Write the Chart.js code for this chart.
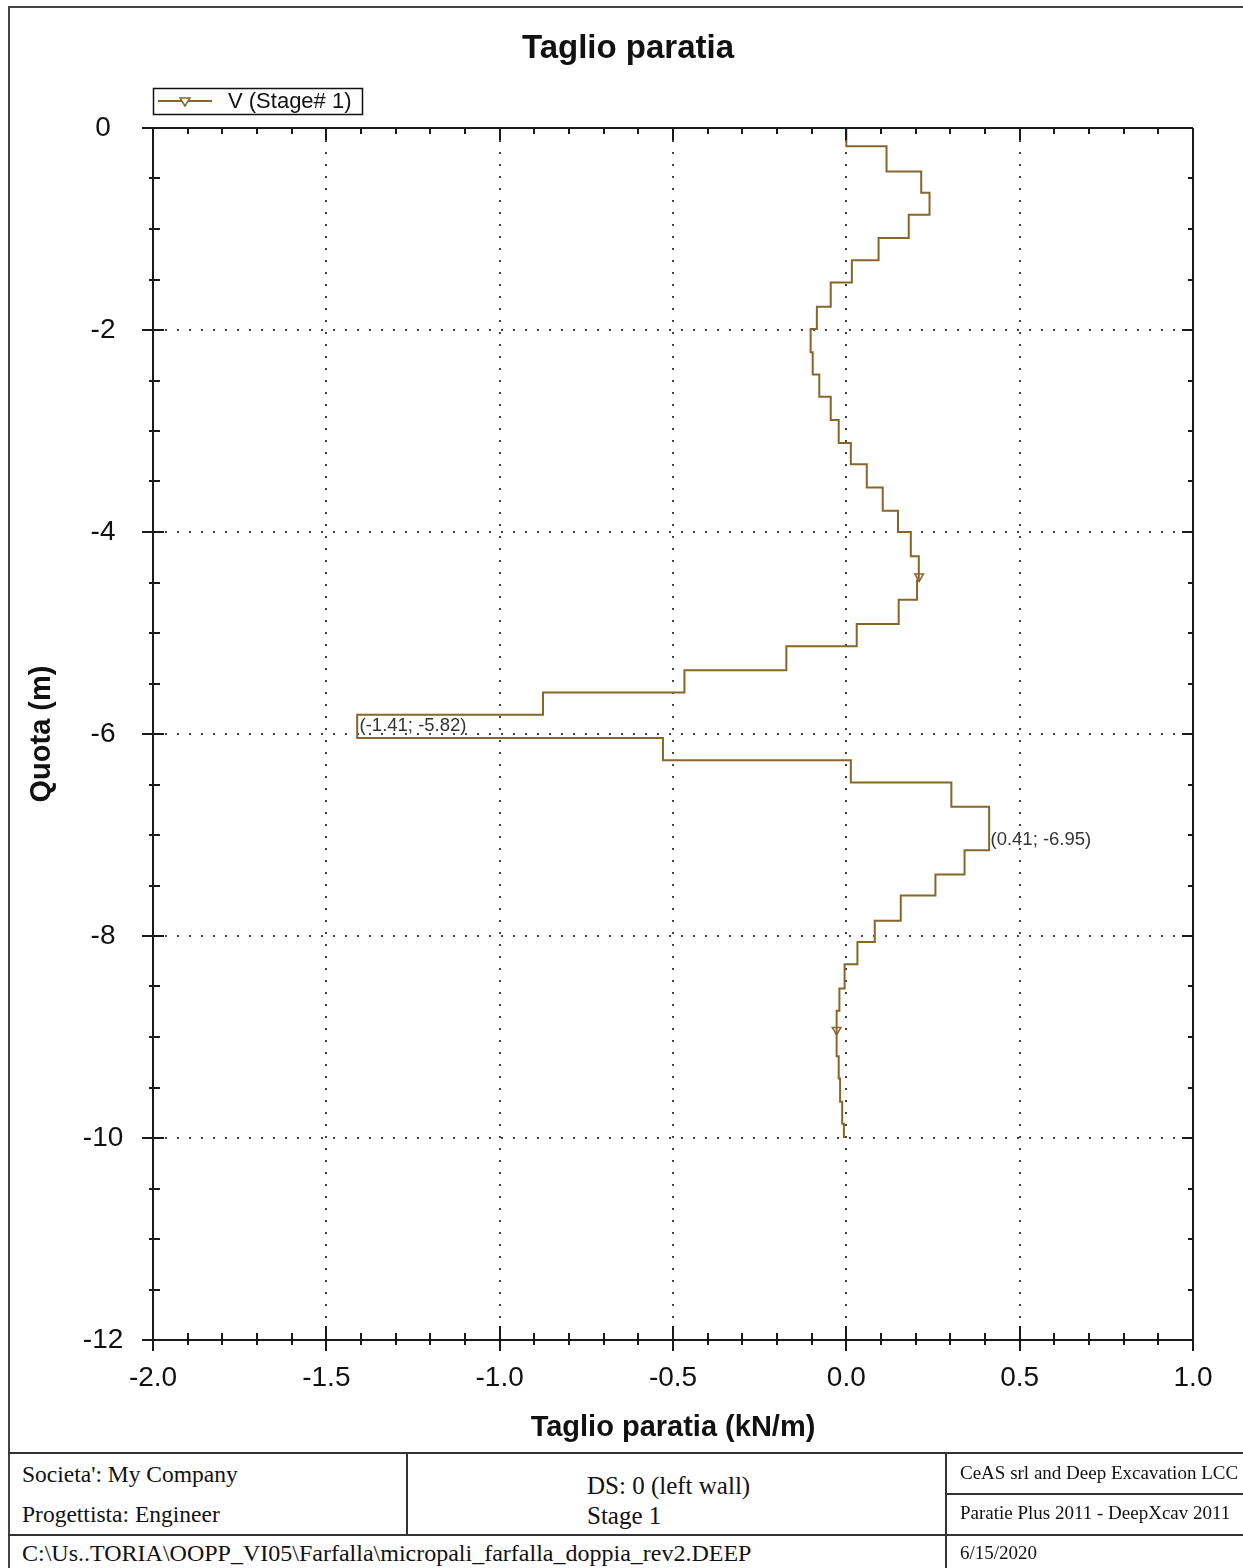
<!DOCTYPE html>
<html>
<head>
<meta charset="utf-8">
<title>Taglio paratia</title>
<script src="https://cdn.jsdelivr.net/npm/chart.js@4.4.1/dist/chart.umd.min.js"></script>
<style>
  html, body { margin: 0; padding: 0; background: #fff; }
  #page { position: relative; width: 1243px; height: 1568px; overflow: hidden; }
  #chart { position: absolute; left: 0; top: 0; }
  .ln { position: absolute; background: #333; }
  .ft { position: absolute; font-family: "Liberation Serif", "Times New Roman", serif; color: #111; white-space: nowrap; height: 30px; line-height: 30px; }
  .small { font-size: 19px; }
</style>
</head>
<body>
<div id="page">
  <canvas id="chart" width="1243" height="1453"></canvas>

  <!-- frame + cartiglio -->
  <div class="ln" style="left:8px;top:6px;width:2px;height:1562px;background:#444"></div>
  <div class="ln" style="left:8px;top:6px;width:1235px;height:2px;background:#444"></div>
  <div class="ln" style="left:8px;top:1452px;width:1235px;height:2px"></div>
  <div class="ln" style="left:406px;top:1453px;width:2px;height:82px"></div>
  <div class="ln" style="left:8px;top:1534px;width:1235px;height:2px"></div>
  <div class="ln" style="left:945px;top:1453px;width:2px;height:115px"></div>
  <div class="ln" style="left:946px;top:1493px;width:297px;height:2px"></div>

  <div class="ft" style="left:22px;top:1459px;font-size:23.5px">Societa': My Company</div>
  <div class="ft" style="left:22px;top:1499px;font-size:23.5px">Progettista: Engineer</div>
  <div class="ft" style="left:587px;top:1471px;font-size:25px">DS: 0 (left wall)</div>
  <div class="ft" style="left:587px;top:1501px;font-size:25px">Stage 1</div>
  <div class="ft small" style="left:960px;top:1458px">CeAS srl and Deep Excavation LCC</div>
  <div class="ft small" style="left:960px;top:1498px">Paratie Plus 2011 - DeepXcav 2011</div>
  <div class="ft" style="left:22px;top:1538px;font-size:24px">C:\Us..TORIA\OOPP_VI05\Farfalla\micropali_farfalla_doppia_rev2.DEEP</div>
  <div class="ft small" style="left:960px;top:1538px">6/15/2020</div>
</div>

<script>
// profondita' dei cambi di gradino (m sotto testa paratia)
const quotaBounds = [0, 0.18, 0.43, 0.64, 0.86, 1.09, 1.31, 1.53, 1.77, 1.99,
  2.22, 2.44, 2.66, 2.89, 3.12, 3.33, 3.56, 3.79, 4.00, 4.24,
  4.48, 4.67, 4.91, 5.13, 5.37, 5.59, 5.81, 6.04, 6.26, 6.48,
  6.72, 6.95, 7.15, 7.39, 7.60, 7.85, 8.06, 8.28, 8.52, 8.74,
  8.96, 9.19, 9.41, 9.64, 9.86, 10.0];
// taglio V (kN/m) su ogni gradino
const taglioV = [0.0, 0.116, 0.216, 0.24, 0.18, 0.093, 0.016, -0.045, -0.085, -0.103,
  -0.097, -0.078, -0.045, -0.022, 0.013, 0.059, 0.105, 0.149, 0.186, 0.209,
  0.204, 0.151, 0.03, -0.173, -0.467, -0.875, -1.411, -0.529, 0.013, 0.303,
  0.412, 0.412, 0.341, 0.257, 0.157, 0.082, 0.032, -0.005, -0.02, -0.028,
  -0.028, -0.022, -0.018, -0.012, -0.007];
const markerV = [0.21, -0.028];
const markerQ = [-4.44, -8.93];
const labelV = [-1.41, 0.41];
const labelQ = [-5.82, -6.95];
const xTicks = [-2.0, -1.5, -1.0, -0.5, 0.0, 0.5, 1.0];
const yTicks = [0, -2, -4, -6, -8, -10, -12];

const lineColor = '#86662c';
const font = '"Liberation Sans", Arial, sans-serif';

const stepPoints = [{ x: taglioV[0], y: -quotaBounds[0] }];
taglioV.forEach((v, i) => stepPoints.push({ x: v, y: -quotaBounds[i + 1] }));
const markerPoints = markerV.map((v, i) => ({ x: v, y: markerQ[i] }));

function triangleDown(ctx, cx, cy, r) {
    ctx.beginPath();
    ctx.moveTo(cx - r, cy - r * 0.6);
    ctx.lineTo(cx + r, cy - r * 0.6);
    ctx.lineTo(cx, cy + r);
    ctx.closePath();
    ctx.fillStyle = '#fff';
    ctx.fill();
    ctx.stroke();
}

const frameTicks = {
    id: 'frameTicks',
    afterDraw(chart) {
        const { ctx, chartArea: a, scales: { x, y } } = chart;
        ctx.save();
        ctx.strokeStyle = '#1a1a1a';
        ctx.lineWidth = 2;
        ctx.beginPath();
        ctx.moveTo(a.left - 11, a.top); ctx.lineTo(a.right, a.top);
        ctx.moveTo(a.left - 11, a.bottom); ctx.lineTo(a.right, a.bottom);
        ctx.moveTo(a.left, a.top); ctx.lineTo(a.left, a.bottom + 11);
        ctx.moveTo(a.right, a.top); ctx.lineTo(a.right, a.bottom);
        for (let i = 0; i <= 30; i++) {
            const px = Math.round(x.getPixelForValue(xTicks[0] + i * 0.1));
            const major = i % 5 === 0;
            ctx.moveTo(px, a.bottom - (major ? 14 : 7)); ctx.lineTo(px, a.bottom + (major ? 11 : 5));
            ctx.moveTo(px, a.top); ctx.lineTo(px, a.top + (major ? 12 : 6));
        }
        for (let i = 0; i <= 24; i++) {
            const py = Math.round(y.getPixelForValue(-i * 0.5));
            const major = i % 4 === 0;
            ctx.moveTo(a.left - (major ? 11 : 4), py); ctx.lineTo(a.left + (major ? 11 : 7), py);
            ctx.moveTo(a.right - (major ? 11 : 5), py); ctx.lineTo(a.right, py);
        }
        ctx.stroke();

        // etichette dei punti estremi
        ctx.fillStyle = '#333';
        ctx.font = '18.5px ' + font;
        ctx.textAlign = 'left';
        ctx.textBaseline = 'middle';
        labelV.forEach((v, i) => {
            const txt = '(' + v.toFixed(2) + '; ' + labelQ[i].toFixed(2) + ')';
            ctx.fillText(txt, x.getPixelForValue(v) + 2, y.getPixelForValue(labelQ[i]) + 10);
        });

        // legenda
        const lx = a.left, ly = a.top - 40;
        ctx.lineWidth = 1.5;
        ctx.strokeStyle = '#111';
        ctx.strokeRect(lx + 0.5, ly + 0.5, 209, 26);
        ctx.strokeStyle = lineColor;
        ctx.lineWidth = 2;
        ctx.beginPath();
        ctx.moveTo(lx + 5, ly + 13); ctx.lineTo(lx + 59, ly + 13);
        ctx.stroke();
        ctx.lineWidth = 1.5;
        triangleDown(ctx, lx + 32, ly + 13, 5);
        ctx.fillStyle = '#111';
        ctx.font = '22px ' + font;
        ctx.fillText(chart.data.datasets[0].label, lx + 75, ly + 14);
        ctx.restore();
    }
};

new Chart(document.getElementById('chart'), {
    type: 'line',
    data: {
        datasets: [{
            label: 'V (Stage# 1)',
            data: stepPoints,
            stepped: true,
            borderColor: lineColor,
            borderWidth: 2,
            pointRadius: 0,
            fill: false
        }, {
            label: 'marker',
            data: markerPoints,
            showLine: false,
            pointStyle: 'triangle',
            rotation: 180,
            pointRadius: 5,
            borderColor: lineColor,
            backgroundColor: '#fff',
            pointBorderWidth: 1.5
        }]
    },
    options: {
        responsive: false,
        animation: false,
        events: [],
        layout: { padding: { left: 13, top: 0, right: 0, bottom: 0 } },
        plugins: {
            legend: { display: false },
            tooltip: { enabled: false },
            title: {
                display: true,
                text: 'Taglio paratia',
                color: '#111',
                font: { family: font, size: 33, weight: 'bold' },
                padding: { top: 29, bottom: 59.4 }
            }
        },
        scales: {
            x: {
                type: 'linear',
                min: xTicks[0],
                max: xTicks[xTicks.length - 1],
                afterBuildTicks: s => { s.ticks = xTicks.map(v => ({ value: v })); },
                afterFit: s => { s.height = 113; },
                ticks: {
                    padding: 21, color: '#111', maxRotation: 0, autoSkip: false,
                    font: { family: font, size: 28 },
                    callback: v => Number(v).toFixed(1)
                },
                grid: { drawTicks: false, color: '#444', lineWidth: 2 },
                border: { display: false, dash: [2, 10] },
                title: {
                    display: true, text: 'Taglio paratia (kN/m)', color: '#111',
                    font: { family: font, size: 29, weight: 'bold' },
                    padding: { top: 0, bottom: 7.6 }
                }
            },
            y: {
                type: 'linear',
                min: yTicks[yTicks.length - 1],
                max: yTicks[0],
                afterBuildTicks: s => { s.ticks = yTicks.map(v => ({ value: v })); },
                afterFit: s => { s.width = 140; },
                ticks: {
                    padding: 29.7, crossAlign: 'center', color: '#111', autoSkip: false,
                    font: { family: font, size: 28 },
                    callback: v => String(v)
                },
                grid: { drawTicks: false, color: '#444', lineWidth: 2 },
                border: { display: false, dash: [2, 10] },
                title: {
                    display: true, text: 'Quota (m)', color: '#111',
                    font: { family: font, size: 29, weight: 'bold' },
                    padding: { top: 11.6, bottom: 0 }
                }
            },
            yRight: {
                type: 'linear',
                position: 'right',
                afterFit: s => { s.width = 50; },
                ticks: { display: false },
                grid: { display: false, drawTicks: false },
                border: { display: false }
            }
        }
    },
    plugins: [frameTicks]
});
</script>
</body>
</html>
